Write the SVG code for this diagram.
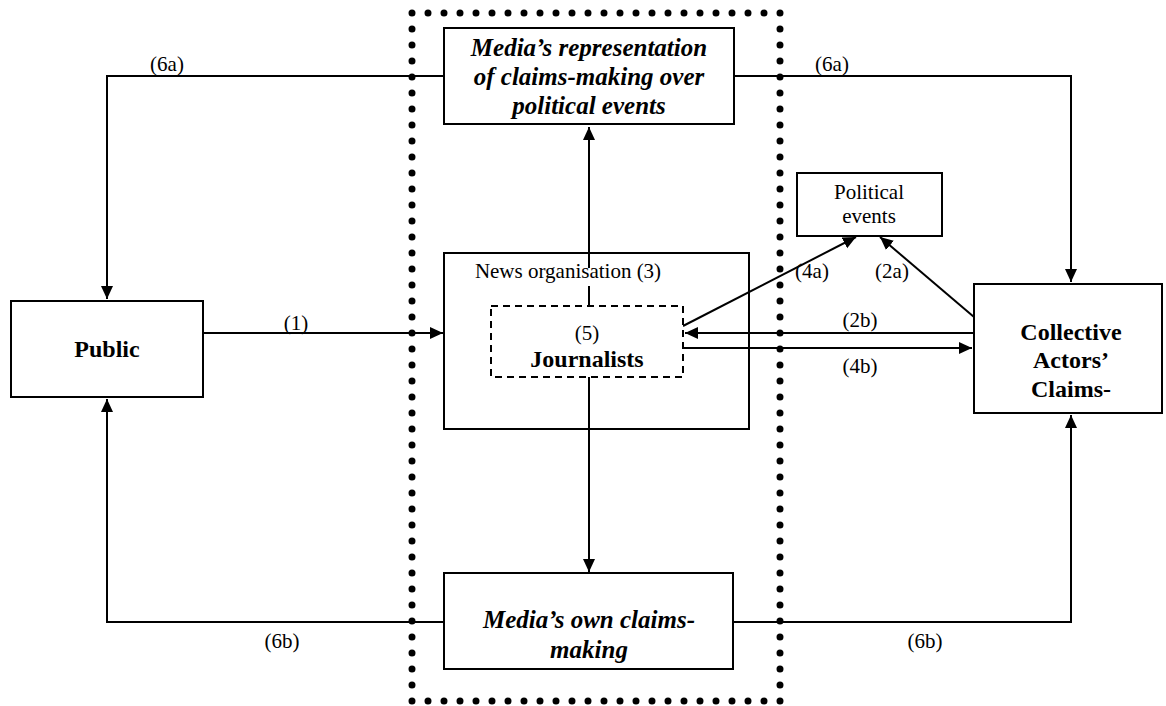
<svg xmlns="http://www.w3.org/2000/svg" width="1166" height="706" viewBox="0 0 1166 706" font-family="Liberation Serif, Times New Roman, Tinos, DejaVu Serif, Noto Serif, serif">
<style>
.box{fill:#fff;stroke:#000;stroke-width:2}
.dash{fill:#fff;stroke:#000;stroke-width:2;stroke-dasharray:7 5}
.ln{fill:none;stroke:#000;stroke-width:2}
text{fill:#000;text-anchor:middle}
.lbl{font-size:21px}
.bold{font-size:24px;font-weight:bold}
.bi{font-size:25px;font-weight:bold;font-style:italic}
.dots{fill:none;stroke:#000;stroke-width:7;stroke-linecap:round;stroke-dasharray:0 16}
</style>
<defs>
<marker id="ah" markerWidth="14" markerHeight="14" refX="13" refY="7" orient="auto" markerUnits="userSpaceOnUse">
<path d="M0,1 L13,7 L0,13 Z" fill="#000"/>
</marker>
</defs>
<rect width="1166" height="706" fill="#fff"/>

<g id="media-boundary">
<path class="dots" d="M412,13 H780 V701 H412 Z"/>
</g>

<g id="connectors">
<path class="ln" d="M444,76 H107 V299" marker-end="url(#ah)"/>
<path class="ln" d="M734,76 H1071 V282" marker-end="url(#ah)"/>
<path class="ln" d="M444,622 H107 V399" marker-end="url(#ah)"/>
<path class="ln" d="M733,622 H1071 V415" marker-end="url(#ah)"/>
<path class="ln" d="M203,333 H443" marker-end="url(#ah)"/>
<path class="ln" d="M589,305 V286"/>
<path class="ln" d="M589,268 V127" marker-end="url(#ah)"/>
<path class="ln" d="M589,377 V572" marker-end="url(#ah)"/>
<path class="ln" d="M974,333 H685" marker-end="url(#ah)"/>
<path class="ln" d="M683,348 H972" marker-end="url(#ah)"/>
<path class="ln" d="M683,326 L856,237" marker-end="url(#ah)"/>
<path class="ln" d="M974,317 L880,237" marker-end="url(#ah)"/>
<text class="lbl" x="167" y="71">(6a)</text>
<text class="lbl" x="832" y="71">(6a)</text>
<text class="lbl" x="282" y="648">(6b)</text>
<text class="lbl" x="925" y="648">(6b)</text>
<text class="lbl" x="296" y="330">(1)</text>
<text class="lbl" x="812" y="278">(4a)</text>
<text class="lbl" x="892" y="278">(2a)</text>
<text class="lbl" x="860" y="327">(2b)</text>
<text class="lbl" x="860" y="373">(4b)</text>
</g>

<g id="media-representation">
<rect class="box" x="444" y="28" width="290" height="96"/>
<text class="bi" x="589" y="56">Media’s representation</text>
<text class="bi" x="589" y="85">of claims-making over</text>
<text class="bi" x="589" y="114">political events</text>
</g>

<g id="media-own">
<rect class="box" x="444" y="573" width="289" height="96"/>
<text class="bi" x="589" y="628">Media’s own claims-</text>
<text class="bi" x="589" y="658">making</text>
</g>

<g id="public">
<rect class="box" x="11" y="301" width="192" height="96"/>
<text class="bold" x="107" y="357">Public</text>
</g>

<g id="news-organisation">
<rect class="ln" x="444" y="253" width="305" height="176"/>
<text class="lbl" x="568" y="278">News organisation (3)</text>
</g>

<g id="journalists">
<rect class="dash" x="491" y="306" width="192" height="71"/>
<text class="lbl" x="587" y="340">(5)</text>
<text class="bold" x="587" y="367">Journalists</text>
</g>

<g id="political-events">
<rect class="box" x="797" y="173" width="145" height="63"/>
<text class="lbl" x="869" y="199">Political</text>
<text class="lbl" x="869" y="223">events</text>
</g>

<g id="collective-actors">
<rect class="box" x="974" y="284" width="188" height="129"/>
<text class="bold" x="1071" y="340">Collective</text>
<text class="bold" x="1071" y="368">Actors’</text>
<text class="bold" x="1071" y="397">Claims-</text>
</g>
</svg>
